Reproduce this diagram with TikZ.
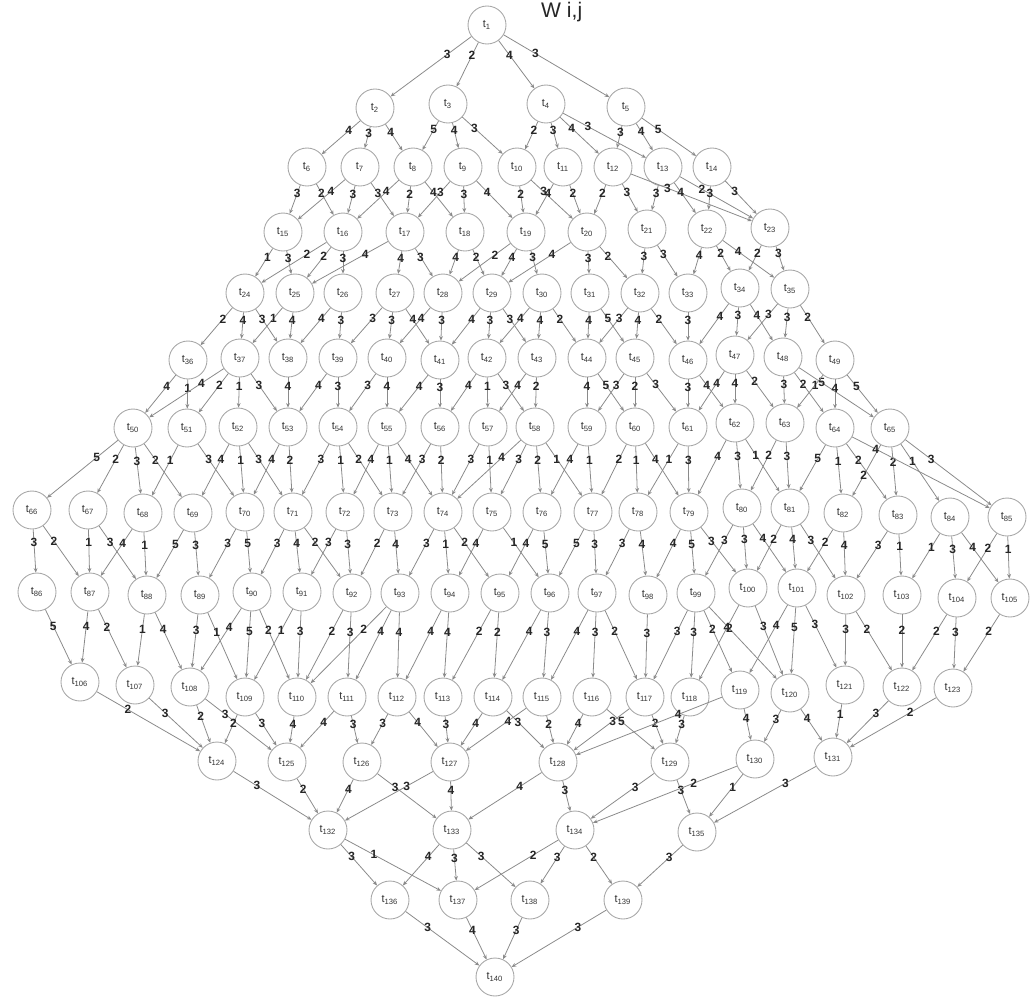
\documentclass[tikz,border=0pt]{standalone}
\usepackage{fontspec}
\setmainfont{Liberation Sans}
\usetikzlibrary{arrows.meta}
\definecolor{ln}{HTML}{8A8A8A}
\definecolor{cir}{HTML}{A8A8A8}
\definecolor{txt}{HTML}{333333}
\begin{document}
\begin{tikzpicture}[x=0.02cm,y=-0.02cm,
  tn/.style={circle,draw=cir,line width=0.5pt,fill=white,minimum size=0.76cm,inner sep=0pt,text=txt,font=\fontsize{6.2}{7}\selectfont},
  edge/.style={draw=ln,line width=0.45pt,-{Stealth[length=2.6pt,width=2.2pt]}},
  lbl/.style={pos=0.3,inner sep=0.5pt,text=black!85,font=\fontsize{6.8}{7}\selectfont\bfseries}]
\useasboundingbox (0,0) rectangle (1030,1001);
\foreach \n/\x/\y in {1/487/25,
2/375/108,3/448/104,4/546/104,5/626/107,
6/307/167,7/360/167,8/413/167,9/463/167,10/517/167,11/563/167,12/613/167,13/663/167,14/712/167,
15/283/232,16/343/232,17/405/232,18/465/232,19/526/232,20/587/232,21/647/229,22/707/229,23/770/228,
24/245/293,25/295/293,26/343/293,27/395/293,28/443/293,29/492/293,30/542/293,31/590/293,32/640/293,33/688/293,34/740/288,35/790/289,
36/188/360,37/240/358,38/288/358,39/338/358,40/387/358,41/440/360,42/487/358,43/537/358,44/587/358,45/635/358,46/688/360,47/735/355,48/783/357,49/835/360,
50/133/428,51/187/428,52/238/427,53/288/427,54/338/427,55/387/427,56/440/427,57/488/427,58/535/427,59/587/427,60/635/427,61/688/427,62/735/423,63/785/423,64/835/428,65/890/428,
66/32/510,67/88/510,68/143/513,69/193/513,70/245/512,71/293/512,72/345/512,73/393/512,74/443/512,75/492/512,76/542/512,77/593/512,78/638/512,79/689/512,80/742/508,81/790/508,82/843/513,83/898/515,84/950/517,85/1007/517,
86/37/592,87/90/592,88/147/595,89/200/595,90/252/592,91/302/592,92/352/593,93/400/593,94/450/593,95/500/593,96/550/593,97/597/593,98/648/595,99/696/593,100/748/588,101/797/588,102/846/595,103/902/595,104/957/598,105/1010/598,
106/80/682,107/135/685,108/190/687,109/245/697,110/297/697,111/347/697,112/397/697,113/443/697,114/493/697,115/542/697,116/592/697,117/645/697,118/690/697,119/740/690,120/790/693,121/845/685,122/902/687,123/953/688,
124/217/761,125/287/762,126/362/762,127/450/762,128/558/762,129/670/762,130/755/759,131/833/757,
132/328/830,133/452/830,134/575/830,135/697/832,
136/390/900,137/458/900,138/530/900,139/623/900,
140/495/977}
  \node[tn] (t\n) at (\x,\y) {t\textsubscript{\n}};
\node[text=black!85,font=\fontsize{12}{14}\selectfont,anchor=west] (wij) at (535,12) {W i,j};
\foreach \a/\b/\w in {
1/2/3,1/3/2,1/4/4,1/5/3,
2/6/4,2/7/3,2/8/4,3/8/5,3/9/4,3/10/3,4/10/2,4/11/3,4/12/4,4/13/3,5/12/3,5/13/4,5/14/5,
6/15/3,6/16/2,7/15/4,7/16/3,7/17/3,8/16/4,8/17/2,8/18/4,9/17/3,9/18/3,9/19/4,10/19/2,10/20/3,11/19/4,11/20/2,12/20/2,12/21/3,12/23/3,13/21/3,13/22/4,13/23/2,14/22/3,14/23/3,
15/24/1,15/25/3,16/24/2,16/25/2,16/26/3,17/25/4,17/27/4,17/28/3,18/28/4,18/29/2,19/28/2,19/29/4,19/30/3,20/29/4,20/31/3,20/32/2,21/32/3,21/33/3,22/33/4,22/34/2,22/35/4,23/34/2,23/35/3,
24/36/2,24/37/4,24/38/3,25/37/1,25/38/4,26/38/4,26/39/3,27/39/3,27/40/3,27/41/4,28/40/4,28/41/3,29/41/4,29/42/3,29/43/3,30/42/4,30/43/4,30/44/2,31/44/4,31/45/5,32/44/3,32/45/4,32/46/2,33/46/3,34/46/4,34/47/3,34/48/4,35/47/3,35/48/3,35/49/2,
36/50/4,36/51/1,37/50/4,37/51/2,37/52/1,37/53/3,38/53/4,39/53/4,39/54/3,40/54/3,40/55/4,41/55/4,41/56/3,42/56/4,42/57/1,42/58/3,43/57/4,43/58/2,44/59/4,44/60/5,45/59/3,45/60/2,45/61/3,46/61/3,46/62/4,47/61/4,47/62/4,47/63/2,48/63/3,48/64/2,48/65/5,49/63/1,49/64/4,49/65/5,
50/66/5,50/67/2,50/68/3,50/69/2,51/68/1,51/70/3,52/69/4,52/70/1,52/71/3,53/70/4,53/71/2,54/71/3,54/72/1,54/73/2,55/72/4,55/73/1,55/74/4,56/73/3,56/74/2,57/74/3,57/75/1,58/74/4,58/75/3,58/76/2,58/77/1,59/76/4,59/77/1,60/77/2,60/78/1,60/79/4,61/78/1,61/79/3,62/79/4,62/80/3,62/81/1,63/80/2,63/81/3,64/81/5,64/82/1,64/83/2,65/83/2,65/84/1,65/85/3,
66/86/3,66/87/2,67/87/1,67/88/3,68/87/4,68/88/1,69/88/5,69/89/3,70/89/3,70/90/5,71/90/3,71/91/4,71/92/2,72/91/3,72/92/3,73/92/2,73/93/4,74/93/3,74/94/1,74/95/2,75/94/4,75/96/1,76/95/4,76/96/5,77/96/5,77/97/3,78/97/3,78/98/4,79/98/4,79/99/5,79/100/3,80/99/3,80/100/3,80/101/4,81/100/2,81/101/4,81/102/3,82/101/2,82/102/4,83/102/3,83/103/1,84/103/1,84/104/3,84/105/4,85/104/2,85/105/1,
86/106/5,87/106/4,87/107/2,88/107/1,88/108/4,89/108/3,89/109/1,90/108/4,90/109/5,90/110/2,91/109/1,91/110/3,92/110/2,92/111/3,93/110/2,93/111/4,93/112/4,94/112/4,94/113/4,95/113/2,95/114/2,96/114/4,96/115/3,97/115/4,97/116/3,97/117/2,98/117/3,99/117/3,99/118/3,99/119/2,99/120/2,100/118/4,100/120/3,101/119/4,101/120/5,101/121/3,102/121/3,102/122/2,103/122/2,104/122/2,104/123/3,105/123/2,
106/124/2,107/124/3,108/124/2,108/125/3,109/124/2,109/125/3,110/125/4,111/125/4,111/126/3,112/126/3,112/127/4,113/127/3,114/127/4,114/128/3,115/127/4,115/128/2,116/128/4,116/129/5,117/128/3,117/129/2,118/129/3,119/128/4,119/130/4,120/130/3,120/131/4,121/131/1,122/131/3,123/131/2,
124/132/3,125/132/2,126/132/4,126/133/3,127/132/3,127/133/4,128/133/4,128/134/3,129/134/3,129/135/3,130/134/2,130/135/1,131/135/3,
132/136/3,132/137/1,133/136/4,133/137/3,133/138/3,134/137/2,134/138/3,134/139/2,135/139/3,
136/140/3,137/140/4,138/140/3,139/140/3}
  \draw[edge] (t\a) -- node[lbl] {\w} (t\b);
\draw[edge] (t65) -- node[lbl,pos=0.6] {2} (t82);
\draw[edge] (t64) -- node[lbl,pos=0.17] {4} (t85);
\end{tikzpicture}
\end{document}
